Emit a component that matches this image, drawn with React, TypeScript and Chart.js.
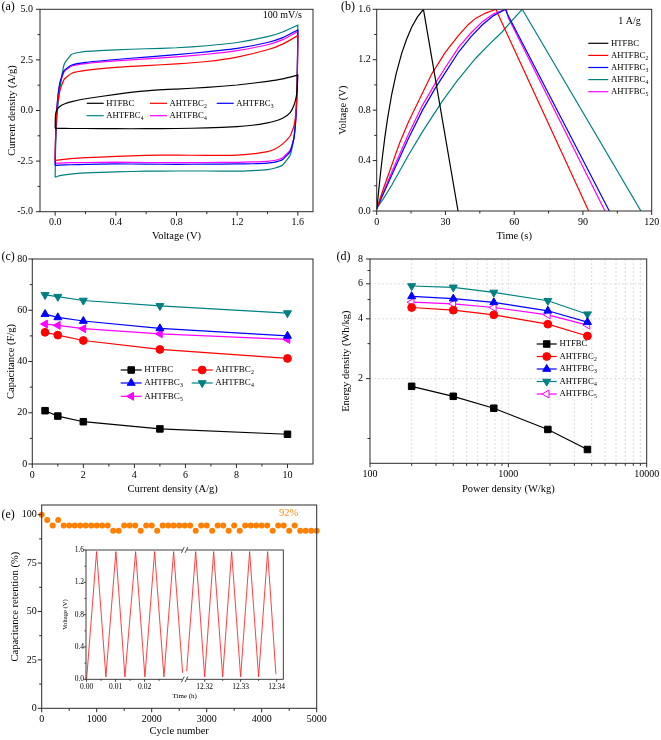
import React, { useEffect, useRef } from 'react';
import { Chart, registerables } from 'chart.js';

Chart.register(...registerables);

const SERIF = "'Liberation Serif', 'Times New Roman', Times, serif";
const FRAME = '#2b2b2b';

// ---------- shared series info ----------
const seriesNames = ['HTFBC', 'AHTFBC₂', 'AHTFBC₃', 'AHTFBC₄', 'AHTFBC₅'];
const cvLegendNames = ['HTFBC', 'AHTFBC₂', 'AHTFBC₃', 'AHTFBC₄', 'AHTFBC₄'];
const seriesColors = ['#000000', '#ff0000', '#0000ff', '#008080', '#ff00ff'];
const markerStyles = ['rect', 'circle', 'triangle', 'triangle', 'triangle'];
const markerRotations = [0, 0, 0, 180, 270];
const markerRadii = [4.6, 3.9, 4.6, 4.6, 4.6];

// ---------- (a) cyclic voltammetry, 100 mV/s ----------
const cvVoltUp = [0, 0.002, 0.01, 0.03, 0.06, 0.11, 0.2, 0.4, 0.6, 0.8, 1.0, 1.2, 1.4, 1.5, 1.6];
const cvVoltDown = [1.6, 1.597, 1.59, 1.575, 1.55, 1.5, 1.45, 1.4, 1.3, 1.2, 1.0, 0.8, 0.6, 0.4, 0.2, 0.1, 0.03, 0];
const cvUpHTFBC = [-0.88, -0.25, 0.02, 0.2, 0.32, 0.44, 0.58, 0.8, 0.97, 1.06, 1.14, 1.26, 1.44, 1.56, 1.75];
const cvUpA2 = [-2.47, -1.5, -0.1, 0.95, 1.55, 1.84, 1.98, 2.13, 2.22, 2.3, 2.42, 2.64, 3.0, 3.28, 3.7];
const cvUpA3 = [-2.72, -1.6, 0.0, 1.35, 1.98, 2.25, 2.38, 2.52, 2.64, 2.76, 2.9, 3.07, 3.36, 3.6, 3.98];
const cvUpA4 = [-3.3, -2.1, -0.5, 1.0, 2.3, 2.78, 2.92, 3.0, 3.05, 3.1, 3.2, 3.36, 3.65, 3.88, 4.22];
const cvUpA5 = [-2.6, -1.55, -0.05, 1.25, 1.92, 2.2, 2.32, 2.45, 2.55, 2.65, 2.78, 2.96, 3.25, 3.5, 3.9];
const cvDownHTFBC = [1.75, 1.2, 0.7, 0.27, -0.1, -0.38, -0.52, -0.61, -0.73, -0.8, -0.86, -0.89, -0.9, -0.9, -0.89, -0.89, -0.88, -0.88];
const cvDownA2 = [3.7, 1.8, 0.2, -0.75, -1.25, -1.65, -1.9, -2.03, -2.14, -2.2, -2.22, -2.2, -2.22, -2.27, -2.33, -2.38, -2.44, -2.47];
const cvDownA3 = [3.98, 2.0, 0.0, -1.35, -2.02, -2.42, -2.55, -2.6, -2.63, -2.64, -2.65, -2.66, -2.65, -2.64, -2.66, -2.68, -2.7, -2.72];
const cvDownA4 = [4.22, 2.2, 0.2, -1.3, -2.2, -2.69, -2.84, -2.92, -2.97, -3.0, -2.99, -2.99, -3.0, -3.03, -3.08, -3.14, -3.22, -3.3];
const cvDownA5 = [3.9, 1.9, 0.0, -1.3, -1.95, -2.33, -2.46, -2.51, -2.54, -2.56, -2.57, -2.58, -2.57, -2.55, -2.57, -2.58, -2.6, -2.6];
const cvXTicks = [0, 0.4, 0.8, 1.2, 1.6];
const cvYTicks = [-5, -2.5, 0, 2.5, 5];

// ---------- (b) galvanostatic charge/discharge, 1 A/g ----------
const gcdTimeHTFBC = [0, 0.8, 1.6, 2.5, 3.6, 4.8, 6.6, 8.5, 10.9, 13, 15.3, 17.8, 20.4, 35.5];
const gcdVoltHTFBC = [0.01, 0.15, 0.29, 0.43, 0.59, 0.74, 0.93, 1.09, 1.25, 1.36, 1.46, 1.54, 1.6, 0];
const gcdTimeA2 = [0, 3, 6.6, 10, 13.9, 18.5, 24.1, 30, 35.8, 40, 43.1, 47.5, 52.1, 53.2, 92.5];
const gcdVoltA2 = [0.02, 0.18, 0.365, 0.54, 0.708, 0.88, 1.09, 1.26, 1.396, 1.48, 1.528, 1.57, 1.6, 1.55, 0];
const gcdTimeA3 = [0, 3, 6.6, 13.9, 20, 25.5, 30, 35.8, 41, 46, 51, 56.2, 56.8, 101.5];
const gcdVoltA3 = [0.02, 0.14, 0.285, 0.577, 0.8, 0.973, 1.1, 1.263, 1.38, 1.475, 1.55, 1.6, 1.57, 0];
const gcdTimeA4 = [0, 3, 6.6, 13.9, 20, 28.5, 35, 43.1, 49, 54.7, 59, 63.5, 115.3];
const gcdVoltA4 = [0.02, 0.1, 0.206, 0.444, 0.63, 0.867, 1.03, 1.21, 1.32, 1.42, 1.51, 1.6, 0];
const gcdTimeA5 = [0, 3, 6.6, 13.9, 20, 25.5, 30, 35.8, 41, 46, 51, 56.5, 57.5, 99.6];
const gcdVoltA5 = [0.02, 0.15, 0.31, 0.61, 0.84, 1.01, 1.14, 1.3, 1.41, 1.5, 1.565, 1.6, 1.53, 0];
const gcdXTicks = [0, 30, 60, 90, 120];
const gcdYTicks = [0, 0.4, 0.8, 1.2, 1.6];

// ---------- (c) rate capability ----------
const rateCurrent = [0.5, 1, 2, 5, 10];
const capHTFBC = [20.8, 18.7, 16.5, 13.7, 11.6];
const capA2 = [51.4, 50.3, 48.2, 44.7, 41.2];
const capA3 = [58.5, 57.2, 55.8, 52.9, 50.0];
const capA4 = [66.0, 65.3, 63.8, 61.7, 58.9];
const capA5 = [54.6, 54.1, 52.8, 50.8, 48.6];
const rateXTicks = [0, 2, 4, 6, 8, 10];
const rateYTicks = [0, 20, 40, 60, 80];

// ---------- (d) Ragone plot ----------
const powerDensity = [200, 400, 785, 1930, 3730];
const energyHTFBC = [1.83, 1.63, 1.42, 1.11, 0.88];
const energyA2 = [4.56, 4.42, 4.19, 3.76, 3.28];
const energyA3 = [5.19, 5.05, 4.84, 4.39, 3.85];
const energyA4 = [5.85, 5.76, 5.43, 4.93, 4.22];
const energyA5 = [4.85, 4.76, 4.56, 4.19, 3.72];
const ragoneXTicks = [100, 1000, 10000];
const ragoneXMinor = [200, 300, 400, 500, 600, 700, 800, 900, 2000, 3000, 4000, 5000, 6000, 7000, 8000, 9000];
const ragoneYTicks = [2, 4, 6, 8];
const ragoneYMinor = [1, 3, 5, 7];

// ---------- (e) cycling stability ----------
const cycleNumbers = [0, 100, 200, 300, 400, 500, 600, 700, 800, 900, 1000, 1100, 1200, 1300, 1400, 1500, 1600, 1700,
  1800, 1900, 2000, 2100, 2200, 2300, 2400, 2500, 2600, 2700, 2800, 2900, 3000, 3100, 3200, 3300, 3400, 3500, 3600,
  3700, 3800, 3900, 4000, 4100, 4200, 4300, 4400, 4500, 4600, 4700, 4800, 4900, 5000];
const retention = [100, 97.2, 94.4, 97.2,
  94.4, 94.4, 94.4, 94.4, 94.4, 94.4, 94.4, 94.4, 94.4,
  91.7, 91.7,
  94.4, 94.4, 94.4,
  91.7,
  94.4, 94.4,
  91.7,
  94.4, 94.4, 94.4, 94.4, 94.4, 94.4,
  91.7,
  94.4, 94.4,
  91.7,
  94.4, 94.4,
  91.7,
  94.4,
  91.7,
  94.4, 94.4, 94.4, 94.4, 94.4,
  91.7,
  94.4, 94.4,
  91.7,
  94.4,
  91.7, 91.7, 91.7, 91.7];
const cycleXTicks = [0, 1000, 2000, 3000, 4000, 5000];
const cycleYTicks = [0, 25, 50, 75, 100];

// ---------- (e) inset: GCD cycles, broken time axis ----------
const insetTimeStart = [0, 0.00345, 0.00666, 0.0101, 0.01321, 0.0169, 0.0201, 0.02345, 0.02666, 0.03, 0.0331];
const insetVoltStart = [0.0, 1.58, 0.03, 1.58, 0.03, 1.58, 0.03, 1.58, 0.03, 1.58, 0.08];
const insetTimeEnd = [12.315, 12.3175, 12.32, 12.3225, 12.325, 12.3275, 12.33, 12.3325, 12.335, 12.3375, 12.3398];
const insetVoltEnd = [0.1, 1.58, 0.03, 1.58, 0.03, 1.58, 0.03, 1.58, 0.03, 1.58, 0.066];
const insetTickTimes = [0, 0.01, 0.02, 12.32, 12.33, 12.34];
const insetTickLabels = ['0.00', '0.01', '0.02', '12.32', '12.33', '12.34'];
const insetMinorTimes = [0.005, 0.015, 0.025, 12.325, 12.335];
const insetYTicks = [0, 0.4, 0.8, 1.2, 1.6];
const INSET_BREAK = 0.0338;
const INSET_RIGHT_START = 12.31444;
const INSET_RIGHT_SCALE = 1.24;
const toInsetAxis = (t: number) => (t <= INSET_BREAK ? t : INSET_BREAK + (t - INSET_RIGHT_START) * INSET_RIGHT_SCALE);

// ---------- drawing helpers ----------
function drawLabelText(ctx: CanvasRenderingContext2D, text: string, x: number, y: number, size: number) {
  const m = text.match(/^(.*?)([\u2080-\u2089]*)$/) as RegExpMatchArray;
  const base = m[1];
  const sub = m[2].split('').map((c) => String.fromCharCode(c.charCodeAt(0) - 0x2080 + 48)).join('');
  ctx.font = `${size}px ${SERIF}`;
  ctx.textAlign = 'left';
  ctx.textBaseline = 'middle';
  ctx.fillStyle = '#000';
  ctx.fillText(base, x, y);
  if (sub) {
    const w = ctx.measureText(base).width;
    ctx.font = `${size * 0.66}px ${SERIF}`;
    ctx.fillText(sub, x + w + 0.3, y + size * 0.32);
  }
}

function drawMarker(ctx: CanvasRenderingContext2D, style: string, x: number, y: number, r: number, rot: number, fill: string, stroke: string) {
  ctx.beginPath();
  if (style === 'rect') {
    const s = r * Math.SQRT1_2;
    ctx.rect(x - s, y - s, 2 * s, 2 * s);
  } else if (style === 'circle') {
    ctx.arc(x, y, r, 0, Math.PI * 2);
  } else {
    let a = (rot * Math.PI) / 180;
    ctx.moveTo(x + Math.sin(a) * r, y - Math.cos(a) * r);
    a += (2 * Math.PI) / 3;
    ctx.lineTo(x + Math.sin(a) * r, y - Math.cos(a) * r);
    a += (2 * Math.PI) / 3;
    ctx.lineTo(x + Math.sin(a) * r, y - Math.cos(a) * r);
    ctx.closePath();
  }
  ctx.fillStyle = fill;
  ctx.fill();
  ctx.strokeStyle = stroke;
  ctx.lineWidth = 1;
  ctx.stroke();
}

const decoPlugin = {
  id: 'deco',
  beforeDatasetsDraw(chart: any, _a: any, o: any) {
    const { ctx, chartArea: ca, scales } = chart;
    if (o.grid) {
      ctx.save();
      ctx.strokeStyle = o.grid.color;
      ctx.lineWidth = 0.8;
      ctx.setLineDash(o.grid.dash);
      ctx.beginPath();
      for (const v of o.grid.x) {
        const p = scales.x.getPixelForValue(v);
        ctx.moveTo(p, ca.top);
        ctx.lineTo(p, ca.bottom);
      }
      for (const v of o.grid.y) {
        const p = scales.y.getPixelForValue(v);
        ctx.moveTo(ca.left, p);
        ctx.lineTo(ca.right, p);
      }
      ctx.stroke();
      ctx.restore();
    }
  },
  afterDatasetsDraw(chart: any, _a: any, o: any) {
    const { ctx, chartArea: ca, scales } = chart;
    const major = o.major ?? 4;
    const minor = o.minor ?? 2.5;
    ctx.save();
    ctx.setLineDash([]);
    ctx.strokeStyle = FRAME;
    ctx.lineWidth = o.frameWidth ?? 1;
    ctx.strokeRect(ca.left, ca.top, ca.right - ca.left, ca.bottom - ca.top);
    ctx.beginPath();
    scales.x.ticks.forEach((t: any) => {
      const p = scales.x.getPixelForValue(t.value);
      ctx.moveTo(p, ca.bottom);
      ctx.lineTo(p, ca.bottom + major);
    });
    (o.xMinor || []).forEach((v: number) => {
      const p = scales.x.getPixelForValue(v);
      ctx.moveTo(p, ca.bottom);
      ctx.lineTo(p, ca.bottom + minor);
    });
    scales.y.ticks.forEach((t: any) => {
      const p = scales.y.getPixelForValue(t.value);
      ctx.moveTo(ca.left, p);
      ctx.lineTo(ca.left - major, p);
    });
    (o.yMinor || []).forEach((v: number) => {
      const p = scales.y.getPixelForValue(v);
      ctx.moveTo(ca.left, p);
      ctx.lineTo(ca.left - minor, p);
    });
    ctx.stroke();

    if (o.breakAt != null) {
      const p = scales.x.getPixelForValue(o.breakAt);
      for (const yy of [ca.top, ca.bottom]) {
        ctx.fillStyle = '#fff';
        ctx.fillRect(p - 2.2, yy - 1.5, 4.4, 3);
        ctx.beginPath();
        for (const dx of [-1.8, 1.8]) {
          ctx.moveTo(p + dx - 1.4, yy + 2.8);
          ctx.lineTo(p + dx + 1.4, yy - 2.8);
        }
        ctx.strokeStyle = FRAME;
        ctx.lineWidth = 0.9;
        ctx.stroke();
      }
    }

    if (o.legend) {
      const L = o.legend;
      L.items.forEach((it: any) => {
        const ds = chart.data.datasets[it.ds];
        ctx.beginPath();
        ctx.strokeStyle = ds.borderColor;
        ctx.lineWidth = ds.borderWidth ?? 1.2;
        ctx.moveTo(it.x, it.y);
        ctx.lineTo(it.x + L.lineLen, it.y);
        ctx.stroke();
        if (ds.pointRadius > 0) {
          drawMarker(ctx, ds.pointStyle, it.x + L.lineLen / 2, it.y, ds.pointRadius, ds.rotation || 0,
            ds.pointBackgroundColor, ds.pointBorderColor);
        }
        drawLabelText(ctx, ds.label, it.x + L.lineLen + L.gap, it.y, L.size);
      });
    }

    (o.texts || []).forEach((t: any) => {
      ctx.font = `${t.size}px ${SERIF}`;
      ctx.fillStyle = t.color || '#000';
      ctx.textAlign = t.align || 'left';
      ctx.textBaseline = 'middle';
      ctx.fillText(t.text, t.x, t.y);
    });
    ctx.restore();
  },
};

type AxisSpec = {
  type?: string;
  min: number;
  max: number;
  ticks: number[];
  fmt: (v: number, i: number) => string;
  title: string;
  titlePad?: number;
  size: number;
  tickPad: number;
  tickFont?: number;
  titleFont?: number;
};

function makeScale(axis: 'x' | 'y', s: AxisSpec) {
  return {
    type: s.type || 'linear',
    min: s.min,
    max: s.max,
    afterBuildTicks: (sc: any) => {
      sc.ticks = s.ticks.map((v) => ({ value: v }));
    },
    afterFit: (sc: any) => {
      if (axis === 'x') sc.height = s.size;
      else sc.width = s.size;
      sc.paddingLeft = 0;
      sc.paddingRight = 0;
      sc.paddingTop = 0;
      sc.paddingBottom = 0;
    },
    grid: { display: false, drawTicks: false },
    border: { display: false },
    ticks: {
      callback: (v: any, i: number) => s.fmt(Number(v), i),
      padding: s.tickPad,
      color: '#000',
      font: { family: SERIF, size: s.tickFont ?? 10 },
      maxRotation: 0,
      minRotation: 0,
      autoSkip: false,
    },
    title: {
      display: true,
      text: s.title,
      color: '#000',
      font: { family: SERIF, size: s.titleFont ?? 10.5 },
      padding: axis === 'x' ? { top: 0, bottom: 0 } : { top: s.titlePad ?? 0, bottom: 0 },
    },
  };
}

function baseOptions(pad: { top: number; right: number }, deco: any, scales: any) {
  return {
    responsive: false,
    animation: false,
    devicePixelRatio: 1,
    events: [],
    layout: { padding: { left: 0, top: pad.top, right: pad.right, bottom: 0 } },
    plugins: { legend: { display: false }, tooltip: { enabled: false }, deco },
    scales,
  };
}

const fix1 = (v: number) => v.toFixed(1);
const plain = (v: number) => String(v);

// ---------- chart configs ----------
function makeCV() {
  const ups = [cvUpHTFBC, cvUpA2, cvUpA3, cvUpA4, cvUpA5];
  const downs = [cvDownHTFBC, cvDownA2, cvDownA3, cvDownA4, cvDownA5];
  return {
    type: 'scatter',
    data: {
      datasets: ups.map((up, k) => ({
        label: cvLegendNames[k],
        data: [
          ...cvVoltUp.map((v, i) => ({ x: v, y: up[i] })),
          ...cvVoltDown.map((v, i) => ({ x: v, y: downs[k][i] })),
        ],
        borderColor: seriesColors[k],
        borderWidth: 1.2,
        pointRadius: 0,
        showLine: true,
        tension: 0.15,
      })),
    },
    options: baseOptions(
      { top: 9.3, right: 17 },
      {
        xMinor: [0.2, 0.6, 1.0, 1.4],
        yMinor: [-3.75, -1.25, 1.25, 3.75],
        legend: {
          lineLen: 17, gap: 2.5, size: 8.7,
          items: [
            { ds: 0, x: 86.7, y: 103.3 }, { ds: 1, x: 150, y: 103.3 }, { ds: 2, x: 216.7, y: 103.3 },
            { ds: 3, x: 86.7, y: 115.7 }, { ds: 4, x: 150, y: 115.7 },
          ],
        },
        texts: [
          { text: '(a)', x: 1.5, y: 7, size: 12 },
          { text: '100 mV/s', x: 302, y: 15, size: 10, align: 'right' },
        ],
      },
      {
        x: makeScale('x', { min: -0.1, max: 1.7, ticks: cvXTicks, fmt: fix1, title: 'Voltage (V)', size: 31.3, tickPad: 5 }),
        y: makeScale('y', { min: -5, max: 5, ticks: cvYTicks, fmt: fix1, title: 'Current density (A/g)', titlePad: 6, size: 40, tickPad: 7 }),
      },
    ),
  };
}

function makeGCD() {
  const times = [gcdTimeHTFBC, gcdTimeA2, gcdTimeA3, gcdTimeA4, gcdTimeA5];
  const volts = [gcdVoltHTFBC, gcdVoltA2, gcdVoltA3, gcdVoltA4, gcdVoltA5];
  return {
    type: 'scatter',
    data: {
      datasets: times.map((ts, k) => ({
        label: seriesNames[k],
        data: ts.map((t, i) => ({ x: t, y: volts[k][i] })),
        borderColor: seriesColors[k],
        borderWidth: 1.2,
        pointRadius: 0,
        showLine: true,
        tension: 0,
      })),
    },
    options: baseOptions(
      { top: 9.3, right: 9.3 },
      {
        xMinor: [15, 45, 75, 105],
        yMinor: [0.2, 0.6, 1.0, 1.4],
        legend: {
          lineLen: 20, gap: 2.7, size: 8.7,
          items: [0, 1, 2, 3, 4].map((k) => ({ ds: k, x: 258.3, y: 43.3 + k * 12.1 })),
        },
        texts: [
          { text: '(b)', x: 11, y: 7, size: 12 },
          { text: '1 A/g', x: 288.3, y: 21.7, size: 10 },
        ],
      },
      {
        x: makeScale('x', { min: 0, max: 120, ticks: gcdXTicks, fmt: plain, title: 'Time (s)', size: 32, tickPad: 5 }),
        y: makeScale('y', { min: 0, max: 1.6, ticks: gcdYTicks, fmt: fix1, title: 'Voltage (V)', titlePad: 7, size: 46.7, tickPad: 6 }),
      },
    ),
  };
}

function markerDataset(k: number, label: string, data: any[], hollow = false) {
  return {
    label,
    data,
    borderColor: seriesColors[k],
    borderWidth: 1.2,
    showLine: true,
    tension: 0,
    pointStyle: markerStyles[k],
    rotation: markerRotations[k],
    pointRadius: markerRadii[k],
    pointBackgroundColor: hollow ? '#ffffff' : seriesColors[k],
    pointBorderColor: seriesColors[k],
    pointBorderWidth: 1,
  };
}

function makeRate() {
  const caps = [capHTFBC, capA2, capA3, capA4, capA5];
  return {
    type: 'scatter',
    data: {
      datasets: caps.map((c, k) => markerDataset(k, seriesNames[k], rateCurrent.map((x, i) => ({ x, y: c[i] })))),
    },
    options: baseOptions(
      { top: 16, right: 17 },
      {
        xMinor: [1, 3, 5, 7, 9],
        yMinor: [10, 30, 50, 70],
        legend: {
          lineLen: 21, gap: 2.5, size: 9,
          items: [
            { ds: 0, x: 120.7, y: 127 }, { ds: 1, x: 191.7, y: 127 },
            { ds: 2, x: 120.7, y: 140 }, { ds: 3, x: 191.7, y: 140 },
            { ds: 4, x: 120.7, y: 153.3 },
          ],
        },
        texts: [{ text: '(c)', x: 1.5, y: 14.3, size: 12 }],
      },
      {
        x: makeScale('x', { min: 0, max: 11, ticks: rateXTicks, fmt: plain, title: 'Current density (A/g)', size: 32, tickPad: 5 }),
        y: makeScale('y', { min: 0, max: 80, ticks: rateYTicks, fmt: plain, title: 'Capacitance (F/g)', titlePad: 5.4, size: 32.3, tickPad: 5 }),
      },
    ),
  };
}

function makeRagone() {
  const es = [energyHTFBC, energyA2, energyA3, energyA4, energyA5];
  return {
    type: 'scatter',
    data: {
      datasets: es.map((e, k) => markerDataset(k, seriesNames[k], powerDensity.map((x, i) => ({ x, y: e[i] })), k === 4)),
    },
    options: baseOptions(
      { top: 16, right: 14.3 },
      {
        grid: { color: '#d6d6d6', dash: [2, 2], x: [...ragoneXMinor, 1000], y: [2, 4, 6] },
        xMinor: ragoneXMinor,
        yMinor: ragoneYMinor,
        legend: {
          lineLen: 20, gap: 2.7, size: 8.7,
          items: [0, 1, 2, 3, 4].map((k) => ({ ds: k, x: 206.7, y: 101 + k * 12.5 })),
        },
        texts: [{ text: '(d)', x: 6.5, y: 14.3, size: 12 }],
      },
      {
        x: makeScale('x', { type: 'logarithmic', min: 100, max: 10000, ticks: ragoneXTicks, fmt: plain, title: 'Power density (W/kg)', size: 32.7, tickPad: 5 }),
        y: makeScale('y', { type: 'logarithmic', min: 0.75, max: 8, ticks: ragoneYTicks, fmt: plain, title: 'Energy density (Wh/kg)', titlePad: 10.4, size: 40, tickPad: 7 }),
      },
    ),
  };
}

function makeCycle() {
  return {
    type: 'scatter',
    data: {
      datasets: [{
        label: 'Capacitance retention',
        data: cycleNumbers.map((x, i) => ({ x, y: retention[i] })),
        pointRadius: 3,
        pointBackgroundColor: '#ff8000',
        pointBorderColor: '#ff8000',
        pointBorderWidth: 0,
        showLine: false,
        clip: false,
      }],
    },
    options: baseOptions(
      { top: 15, right: 13.3 },
      {
        xMinor: [500, 1500, 2500, 3500, 4500],
        yMinor: [12.5, 37.5, 62.5, 87.5],
        texts: [
          { text: '(e)', x: 1.5, y: 25, size: 12 },
          { text: '92%', x: 298.3, y: 23.3, size: 10.5, align: 'right', color: '#ff8c1a' },
        ],
      },
      {
        x: makeScale('x', { min: 0, max: 5000, ticks: cycleXTicks, fmt: plain, title: 'Cycle number', size: 29.7, tickPad: 5 }),
        y: makeScale('y', { min: 0, max: 105, ticks: cycleYTicks, fmt: plain, title: 'Capacitance retention (%)', titlePad: 8.7, size: 41.7, tickPad: 5 }),
      },
    ),
  };
}

function makeInset() {
  const pts = [
    ...insetTimeStart.map((t, i) => ({ x: toInsetAxis(t), y: insetVoltStart[i] })),
    { x: INSET_BREAK, y: null },
    ...insetTimeEnd.map((t, i) => ({ x: toInsetAxis(t), y: insetVoltEnd[i] })),
  ];
  return {
    type: 'scatter',
    data: {
      datasets: [{
        label: 'Voltage',
        data: pts,
        borderColor: '#ff2a2a',
        borderWidth: 0.9,
        pointRadius: 0,
        showLine: true,
        spanGaps: false,
        tension: 0,
      }],
    },
    options: baseOptions(
      { top: 5, right: 12.7 },
      {
        major: 2.5,
        minor: 1.5,
        frameWidth: 0.9,
        xMinor: insetMinorTimes.map(toInsetAxis),
        yMinor: [0.2, 0.6, 1.0, 1.4],
        breakAt: INSET_BREAK,
      },
      {
        x: makeScale('x', {
          min: -0.0002, max: 0.0678, ticks: insetTickTimes.map(toInsetAxis), fmt: (_v, i) => insetTickLabels[i],
          title: 'Time (h)', size: 20.7, tickPad: 3, tickFont: 7.5, titleFont: 7,
        }),
        y: makeScale('y', {
          min: 0, max: 1.6, ticks: insetYTicks, fmt: fix1, title: 'Voltage (V)', titlePad: 5.8, size: 30,
          tickPad: 2, tickFont: 7.5, titleFont: 6.5,
        }),
      },
    ),
  };
}

type PanelProps = { left: number; top: number; width: number; height: number; make: () => any };

function Panel({ left, top, width, height, make }: PanelProps) {
  const ref = useRef<HTMLCanvasElement>(null);
  useEffect(() => {
    const chart = new Chart(ref.current as HTMLCanvasElement, { ...make(), plugins: [decoPlugin] } as any);
    return () => chart.destroy();
  }, []);
  return (
    <canvas
      ref={ref}
      width={width}
      height={height}
      style={{ position: 'absolute', left, top, width, height, display: 'block' }}
    />
  );
}

export default function App() {
  return (
    <div style={{ position: 'absolute', left: 0, top: 0, width: 661, height: 740, background: '#ffffff', overflow: 'hidden' }}>
      <Panel left={0} top={0} width={330} height={243} make={makeCV} />
      <Panel left={330} top={0} width={331} height={243} make={makeGCD} />
      <Panel left={0} top={243} width={330} height={253} make={makeRate} />
      <Panel left={330} top={243} width={331} height={253} make={makeRagone} />
      <Panel left={0} top={490} width={330} height={248} make={makeCycle} />
      <Panel left={56} top={545} width={240} height={155} make={makeInset} />
    </div>
  );
}
